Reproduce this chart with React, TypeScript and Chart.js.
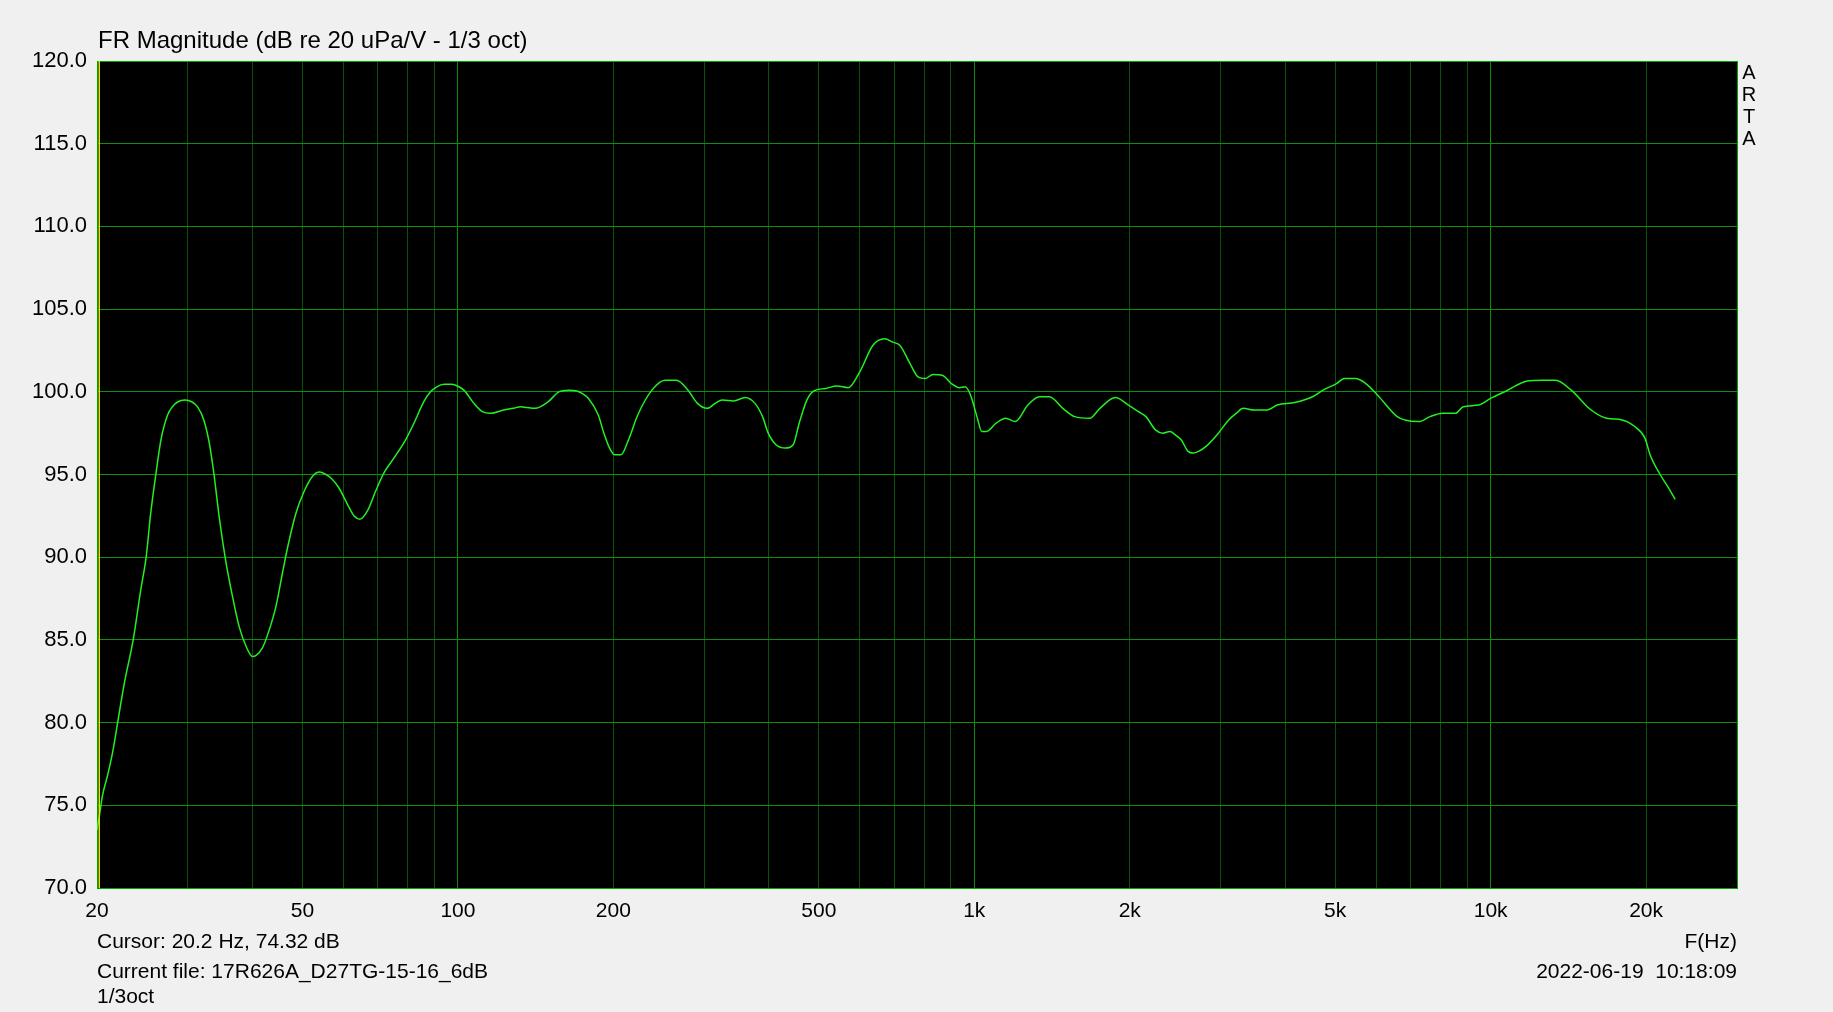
import React, { useEffect, useRef } from "react";
import { Chart, registerables } from "chart.js";

Chart.register(...registerables);

// ---- data ----
const frequencies = [
  20.0, 20.2, 20.5, 21.0, 21.5, 21.9, 22.6, 23.5, 24.3, 24.9, 25.4, 26.0, 26.6, 27.4, 28.0, 28.7, 29.6, 30.5, 31.3,
  32.2, 33.0, 33.7, 34.5, 35.5, 36.5, 37.7, 38.9, 40.0, 40.6, 41.8, 43.0, 44.4, 45.7, 46.8, 48.5, 50.4, 52.3, 54.0,
  55.5, 56.7, 58.8, 61.1, 62.9, 64.6, 66.8, 69.3, 71.9, 75.2, 79.2, 82.2, 85.9, 88.5, 91.0, 94.0, 97.0, 99.0, 102.7,
  107.4, 111.5, 115.7, 122.7, 128, 132.3, 136, 141, 149.6, 156.8, 164, 170, 174, 179, 187, 191.7, 196.6, 201, 207,
  214, 223, 237.5, 252, 265, 279, 291, 304, 315, 325, 342, 360, 376, 389, 399, 413, 431, 446, 458, 474, 489, 515,
  542, 570, 600, 636, 671, 695, 718, 751, 778, 803, 832, 867, 903, 935, 961, 986, 1012, 1034, 1055, 1102, 1150,
  1200, 1270, 1337, 1398, 1484, 1565, 1673, 1751, 1877, 1988, 2080, 2150, 2243, 2320, 2394, 2450, 2516, 2594,
  2653, 2719, 2811, 2970, 3110, 3217, 3317, 3486, 3692, 3862, 4175, 4520, 4736, 5030, 5208, 5466, 5733, 6078,
  6591, 6820, 7260, 7636, 8070, 8550, 8850, 9480, 10000, 10720, 11770, 12610, 13360, 14320, 15650, 16780, 17970,
  19020, 19900, 20360, 21290, 22000, 22770,
];

const magnitudes = [
  73.5, 74.3, 75.6, 76.9, 78.4, 79.9, 82.4, 85.0, 88.0, 90.0, 92.6, 95.0, 97.1, 98.6, 99.1, 99.4, 99.5, 99.4, 99.1,
  98.3, 96.9, 95.0, 92.4, 89.8, 87.8, 85.8, 84.6, 84.0, 84.05, 84.5, 85.5, 87.0, 89.0, 90.6, 92.6, 94.0, 94.9, 95.15,
  95.0, 94.8, 94.2, 93.2, 92.5, 92.3, 92.8, 94.0, 95.1, 96.0, 97.1, 98.1, 99.4, 100.0, 100.3, 100.45, 100.45, 100.4, 100.1,
  99.3, 98.8, 98.7, 98.9, 99.0, 99.1, 99.05, 99.0, 99.4, 100.0, 100.1, 100.05, 99.9, 99.6, 98.6, 97.5, 96.6, 96.2, 96.2,
  97.1, 98.6, 100.1, 100.7, 100.7, 100.1, 99.3, 99.0, 99.3, 99.5, 99.45, 99.65, 99.3, 98.5, 97.5, 96.8, 96.6, 96.8, 98.1, 99.5, 100.05, 100.2,
  100.35, 100.25, 101.2, 102.8, 103.2, 103.0, 102.8, 101.7, 100.9, 100.8, 101.05, 101.0, 100.5, 100.25, 100.3, 99.7, 98.5, 97.6, 97.6, 98.1, 98.4,
  98.2, 99.2, 99.7, 99.7, 99.0, 98.5, 98.4, 99.0, 99.65, 99.2, 98.8, 98.5, 97.7, 97.5, 97.6, 97.4, 97.1, 96.4,
  96.3, 96.4, 96.7, 97.5, 98.3, 98.7, 99.0, 98.9, 98.9, 99.2, 99.35, 99.7, 100.1, 100.5, 100.8, 100.8, 100.5, 99.7,
  98.5, 98.3, 98.2, 98.5, 98.7, 98.7, 99.1, 99.2, 99.6, 100.05, 100.65, 100.7, 100.7, 100.1, 98.9, 98.4, 98.3,
  97.9, 97.2, 96.2, 95.0, 94.3, 93.5,
];

const xGridValues = [
  20, 30, 40, 50, 60, 70, 80, 90, 100, 200, 300, 400, 500, 600, 700, 800, 900, 1000, 2000, 3000, 4000, 5000, 6000,
  7000, 8000, 9000, 10000, 20000, 30000,
];
const xLabelValues = [20, 50, 100, 200, 500, 1000, 2000, 5000, 10000, 20000];
const xLabelTexts = ["20", "50", "100", "200", "500", "1k", "2k", "5k", "10k", "20k"];
const xMajorValues = [100, 1000, 10000];

const xMin = 20;
const xMax = 30000;
const yMin = 70;
const yMax = 120;
const yStep = 5;

const cursorFreq = 20.2;

const titleText = "FR Magnitude (dB re 20 uPa/V - 1/3 oct)";
const cursorText = "Cursor: 20.2 Hz, 74.32 dB";
const fileText = "Current file: 17R626A_D27TG-15-16_6dB";
const smoothingText = "1/3oct";
const axisUnitText = "F(Hz)";
const dateText = "2022-06-19  10:18:09";
const brandLetters = ["A", "R", "T", "A"];

const FONT = "'Liberation Sans', Arial, Helvetica, sans-serif";

const framePlugin = {
  id: "artaFrame",
  beforeDraw(chart: any) {
    const { ctx, chartArea } = chart;
    const { left, top, right, bottom } = chartArea;
    ctx.save();
    ctx.fillStyle = "#000000";
    ctx.fillRect(left, top, right - left, bottom - top);
    ctx.restore();
  },
  beforeDatasetsDraw(chart: any) {
    const { ctx, chartArea } = chart;
    const { left, top, right, bottom } = chartArea;
    ctx.save();
    ctx.strokeStyle = "#00a400";
    ctx.lineWidth = 1;
    ctx.strokeRect(left + 0.5, top + 0.5, right - left, bottom - top);
    ctx.restore();
  },
};

export default function App() {
  const canvasRef = useRef<HTMLCanvasElement | null>(null);

  useEffect(() => {
    document.body.style.margin = "0";
    const canvas = canvasRef.current;
    if (!canvas) return;

    const curve = frequencies.map((f, i) => ({ x: f, y: magnitudes[i] }));
    const cursorLine = [
      { x: cursorFreq, y: yMin },
      { x: cursorFreq, y: yMax },
    ];

    const chart = new Chart(canvas, {
      type: "line",
      data: {
        datasets: [
          {
            data: cursorLine,
            borderColor: "#e8e800",
            borderWidth: 1.5,
            pointRadius: 0,
            tension: 0,
          },
          {
            data: curve,
            borderColor: "#22f022",
            borderWidth: 1.5,
            pointRadius: 0,
            tension: 0.3,
            cubicInterpolationMode: "monotone",
          },
        ],
      },
      plugins: [framePlugin],
      options: {
        responsive: false,
        devicePixelRatio: 1,
        animation: false,
        parsing: false,
        layout: { padding: { left: 0, top: 61, right: 96, bottom: 0 } },
        plugins: {
          legend: { display: false },
          tooltip: { enabled: false },
          title: { display: false },
        },
        scales: {
          x: {
            type: "logarithmic",
            min: xMin,
            max: xMax,
            afterBuildTicks: (scale: any) => {
              scale.ticks = xGridValues.map((v) => ({ value: v }));
            },
            afterFit: (scale: any) => {
              scale.height = 124;
            },
            grid: {
              color: (ctx: any) =>
                ctx.tick && xMajorValues.includes(ctx.tick.value) ? "#0d8f0d" : "#0a520a",
              lineWidth: 1,
              drawTicks: false,
            },
            border: { display: false },
            ticks: {
              autoSkip: false,
              maxRotation: 0,
              minRotation: 0,
              padding: 11,
              color: "#000000",
              font: { family: FONT, size: 21 },
              callback: (value: any) => {
                const idx = xLabelValues.indexOf(Number(value));
                return idx >= 0 ? xLabelTexts[idx] : "";
              },
            },
          },
          y: {
            type: "linear",
            min: yMin,
            max: yMax,
            afterFit: (scale: any) => {
              scale.width = 97;
            },
            grid: {
              color: "#0d8f0d",
              lineWidth: 1,
              drawTicks: false,
            },
            border: { display: false },
            ticks: {
              stepSize: yStep,
              padding: 10,
              color: "#000000",
              font: { family: FONT, size: 22 },
              callback: (value: any) => Number(value).toFixed(1),
            },
          },
        },
      } as any,
    });

    return () => {
      chart.destroy();
    };
  }, []);

  const textBase: React.CSSProperties = {
    position: "absolute",
    fontFamily: FONT,
    fontSize: 21,
    lineHeight: "21px",
    color: "#000000",
    whiteSpace: "pre",
  };

  return (
    <div
      style={{
        position: "fixed",
        left: 0,
        top: 0,
        width: 1833,
        height: 1012,
        background: "#f0f0f0",
        overflow: "hidden",
      }}
    >
      <canvas
        ref={canvasRef}
        width={1833}
        height={1012}
        style={{ position: "absolute", left: 0, top: 0, width: 1833, height: 1012 }}
      />
      <div style={{ ...textBase, left: 98, top: 28, fontSize: 24, lineHeight: "24px" }}>{titleText}</div>
      <div style={{ ...textBase, left: 97, top: 930.2 }}>{cursorText}</div>
      <div style={{ ...textBase, left: 97, top: 960.2 }}>{fileText}</div>
      <div style={{ ...textBase, left: 97, top: 985.2 }}>{smoothingText}</div>
      <div style={{ ...textBase, right: 96, top: 930.2, textAlign: "right" }}>{axisUnitText}</div>
      <div style={{ ...textBase, right: 96, top: 960.2, textAlign: "right" }}>{dateText}</div>
      <div
        style={{
          position: "absolute",
          left: 1739,
          top: 60.8,
          width: 20,
          fontFamily: FONT,
          fontSize: 20,
          lineHeight: "22px",
          textAlign: "center",
          color: "#000000",
        }}
      >
        {brandLetters.map((l, i) => (
          <div key={i}>{l}</div>
        ))}
      </div>
    </div>
  );
}
